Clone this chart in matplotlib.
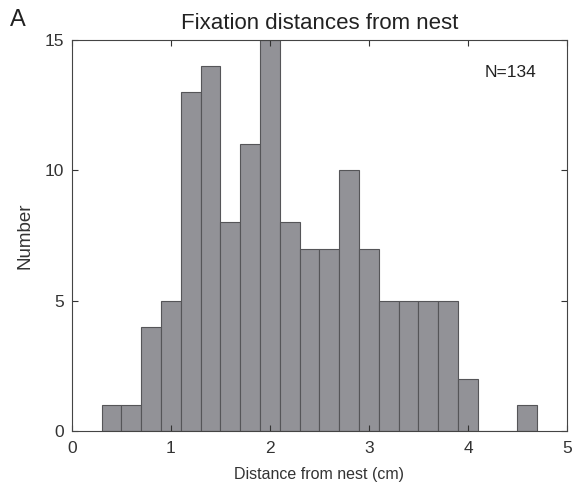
import matplotlib.pyplot as plt
import numpy as np

# histogram of fixation distances (bin edges in cm, counts per bin)
bin_edges = [0.3, 0.5, 0.7, 0.9, 1.1, 1.3, 1.5, 1.7, 1.9, 2.1, 2.3, 2.5,
             2.7, 2.9, 3.1, 3.3, 3.5, 3.7, 3.9, 4.1, 4.3, 4.5, 4.7]
counts = [1, 1, 4, 5, 13, 14, 8, 11, 15, 8, 7, 7,
          10, 7, 5, 5, 5, 5, 2, 0, 0, 1]
xticks = [0, 1, 2, 3, 4, 5]
yticks = [0, 5, 10, 15]

plt.rcParams['font.family'] = ['Liberation Sans', 'DejaVu Sans']

fig = plt.figure(figsize=(5.74, 4.91), dpi=100)
ax = fig.add_axes([0.1254, 0.1222, 0.8624, 0.7963])

edges = np.array(bin_edges)
ax.bar(edges[:-1], counts, width=np.diff(edges), align='edge',
       color='#929297', edgecolor='#555558', linewidth=0.8)

ax.set_xlim(0, 5)
ax.set_ylim(0, 15)
ax.set_xticks(xticks)
ax.set_yticks(yticks)
ax.tick_params(direction='in', top=True, right=True, length=4,
               labelsize=12.5, colors='#333333')
ax.tick_params(axis='x', pad=7)
ax.tick_params(axis='y', pad=6)
for s in ax.spines.values():
    s.set_color('#444444')
    s.set_linewidth(0.8)

ax.set_xlabel('Distance from nest (cm)', fontsize=11.5, color='#333333', labelpad=8)
ax.set_ylabel('Number', fontsize=13.5, color='#333333', labelpad=8)
ax.set_title('Fixation distances from nest', fontsize=16, color='#222222', pad=8)
ax.text(4.17, 13.75, 'N=134', fontsize=12.5, color='#222222', va='center')
fig.text(0.018, 0.96, 'A', fontsize=17, color='#222222', va='center')

fig.savefig('out.png', dpi=100)
